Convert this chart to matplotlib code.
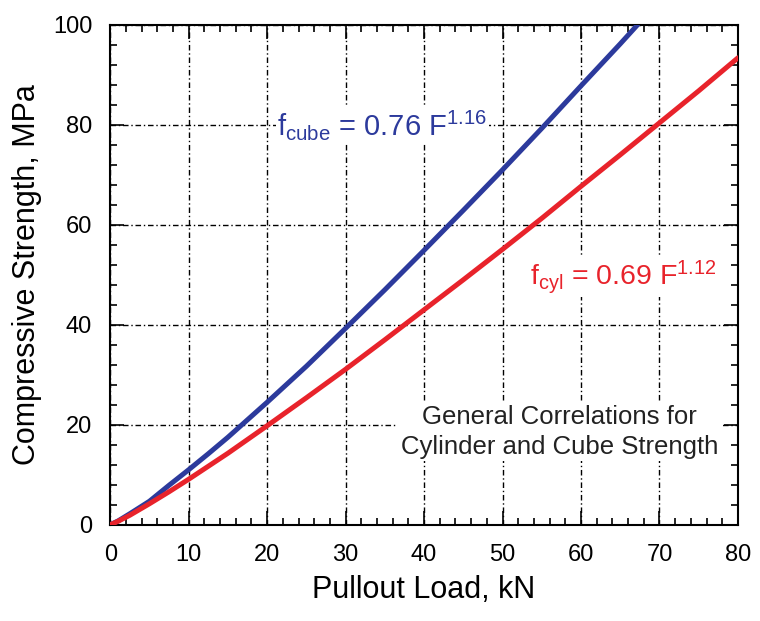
import matplotlib
matplotlib.use("Agg")
import matplotlib.pyplot as plt
from matplotlib.ticker import MultipleLocator

# values
load = [0, 1, 2.5, 5, 7.5, 10, 12.5, 15, 20, 25, 30, 35, 40, 45, 50, 55, 60, 65, 67.2]
f_cube = [0, 0.76, 2.2, 4.7, 7.9, 11.0, 14.2, 17.5, 24.5, 31.7, 39.3, 47.0, 54.9, 62.9, 71.0, 79.3, 87.8, 96.2, 100]
load_cyl = [0, 1, 2.5, 5, 7.5, 10, 12.5, 15, 20, 25, 30, 35, 40, 45, 50, 55, 60, 65, 70, 75, 80]
f_cyl = [0, 0.69, 1.9, 4.2, 6.6, 9.1, 11.7, 14.3, 19.8, 25.4, 31.1, 37.0, 43.0, 49.0, 55.1, 61.3, 67.7, 74.0, 80.4, 86.8, 93.4]

plt.rcParams['font.family'] = ['Liberation Sans', 'DejaVu Sans']
plt.rcParams['mathtext.fontset'] = 'custom'
plt.rcParams['mathtext.rm'] = 'Liberation Sans'

fig = plt.figure(figsize=(7.6, 6.21), dpi=100)
ax = fig.add_axes([0.145, 0.155, 0.826, 0.805])

blue = '#2c3a9c'
red = '#e8232b'

ax.plot(load, f_cube, color=blue, lw=3.6, solid_capstyle='round', zorder=3)
ax.plot(load_cyl, f_cyl, color=red, lw=3.6, solid_capstyle='round', zorder=3)

ax.set_xlim(0, 80)
ax.set_ylim(0, 100)
ax.xaxis.set_major_locator(MultipleLocator(10))
ax.xaxis.set_minor_locator(MultipleLocator(2))
ax.yaxis.set_major_locator(MultipleLocator(20))
ax.yaxis.set_minor_locator(MultipleLocator(4))
ax.tick_params(which='both', direction='in', top=True, right=True, width=1.2)
ax.tick_params(which='major', length=10, labelsize=17)
ax.tick_params(axis='x', which='major', pad=14)
ax.tick_params(axis='y', which='major', pad=13)
ax.tick_params(which='minor', length=5)
for s in ax.spines.values():
    s.set_linewidth(1.5)

ax.grid(True, which='major', color='black', linestyle=(0, (4, 2, 1, 2)), lw=1.0, zorder=1)

ax.set_xlabel('Pullout Load, kN', fontsize=22, labelpad=6)
ax.set_ylabel('Compressive Strength, MPa', fontsize=22, labelpad=8)

ax.text(21.3, 80, r'$\mathregular{f_{cube}}$ = 0.76 F$\mathregular{^{1.16}}$',
        color=blue, fontsize=21, va='center', ha='left', zorder=4,
        bbox=dict(facecolor='white', edgecolor='none', pad=1))
ax.text(53.5, 49.5, r'$\mathregular{f_{cyl}}$ = 0.69 F$\mathregular{^{1.12}}$',
        color=red, fontsize=20.5, va='center', ha='left', zorder=4,
        bbox=dict(facecolor='white', edgecolor='none', pad=1))
ax.text(57.3, 18.6, 'General Correlations for\nCylinder and Cube Strength',
        color='#222222', fontsize=18.5, ha='center', va='center', linespacing=1.3,
        zorder=4, bbox=dict(facecolor='white', edgecolor='none', pad=2))

fig.savefig('out.png', dpi=100)
